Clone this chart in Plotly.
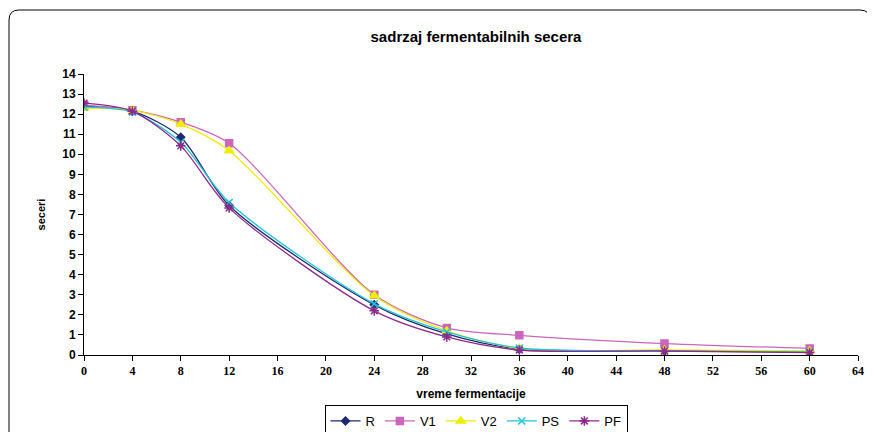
import plotly.graph_objects as go

hours = [0, 4, 8, 12, 24, 30, 36, 48, 60]
R  = [12.4, 12.15, 10.85, 7.45, 2.5, 1.05, 0.3, 0.2, 0.15]
V1 = [12.45, 12.2, 11.6, 10.55, 3.0, 1.35, 0.98, 0.57, 0.33]
V2 = [12.3, 12.2, 11.5, 10.18, 2.95, 1.2, 0.32, 0.25, 0.2]
PS = [12.35, 12.1, 10.6, 7.6, 2.55, 1.15, 0.35, 0.2, 0.15]
PF = [12.55, 12.15, 10.42, 7.33, 2.2, 0.9, 0.25, 0.2, 0.12]

series = [
    ("R", R, "#1f2a6e", "diamond", 6),
    ("V1", V1, "#cc66bb", "square", 7),
    ("V2", V2, "#eeee00", "triangle-up", 8),
    ("PS", PS, "#22c4d8", "x-thin-open", 7),
    ("PF", PF, "#8e2a8e", "asterisk-open", 8),
]

fig = go.Figure()
for name, ys, col, sym, sz in series:
    fig.add_trace(go.Scatter(
        x=hours, y=ys, name=name, mode="lines+markers",
        line=dict(color=col, width=1.3, shape="spline", smoothing=0.8),
        marker=dict(symbol=sym, size=sz, color=col, line=dict(color=col, width=1.5)),
    ))

# page body has an 8px margin; work in window pixels and shift
OFF = 8
WIN_W, WIN_H = 875, 432
W, H = WIN_W - OFF, WIN_H - OFF
pl, pr, pt, pb = 84, 858, 74, 355  # plot area in window pixels
L, R_, T, B = pl - OFF, WIN_W - pr, pt - OFF, WIN_H - pb
pw, ph = W - L - R_, H - T - B

def px2x(px):
    return (px - pl) / pw

def py2y(py):
    return (pb - py) / ph

x0, x1 = px2x(9), px2x(870)
y0, y1 = py2y(445), py2y(10)
rx, ry = 10 / pw, 10 / ph
path = (f"M {x0},{y0} L {x0},{y1-ry} Q {x0},{y1} {x0+rx},{y1} "
        f"L {x1-rx},{y1} Q {x1},{y1} {x1},{y1-ry} L {x1},{y0}")

fig.update_layout(
    width=W, height=H,
    margin=dict(l=L, r=R_, t=T, b=B, autoexpand=False),
    paper_bgcolor="white", plot_bgcolor="white",
    title=dict(text="sadrzaj fermentabilnih secera", x=(476 - OFF) / W, xanchor="center",
               y=1 - (37 - OFF) / H, yanchor="middle",
               font=dict(family="Liberation Sans", size=15, color="black", weight="bold")),
    shapes=[dict(type="path", path=path, xref="paper", yref="paper",
                 line=dict(color="black", width=1))],
    xaxis=dict(range=[0, 64], tickmode="linear", tick0=0, dtick=4, automargin=False,
               showline=True, linecolor="black", linewidth=1,
               ticks="outside", ticklen=5, tickcolor="black", showgrid=False, zeroline=False,
               tickfont=dict(family="Liberation Serif, Times New Roman, serif", size=12,
                             color="black", weight="bold"),
               title=dict(text="vreme fermentacije", standoff=12,
                          font=dict(family="Liberation Sans", size=12, color="black", weight="bold"))),
    yaxis=dict(range=[0, 14], tickmode="linear", tick0=0, dtick=1, automargin=False,
               showline=True, linecolor="black", linewidth=1,
               ticks="outside", ticklen=5, tickcolor="black", showgrid=False, zeroline=False,
               tickfont=dict(family="Liberation Sans", size=12, color="black", weight="bold"),
               title=dict(text="seceri", standoff=14,
                          font=dict(family="Liberation Sans", size=11, color="black", weight="bold"))),
    legend=dict(orientation="h", xref="paper", yref="paper",
                x=px2x(476), xanchor="center", y=py2y(405), yanchor="top",
                bordercolor="black", borderwidth=1, bgcolor="white",
                font=dict(family="Liberation Sans", size=13, color="black"),
                itemwidth=30, tracegroupgap=0),
    showlegend=True,
)

fig.write_html("out.html")
